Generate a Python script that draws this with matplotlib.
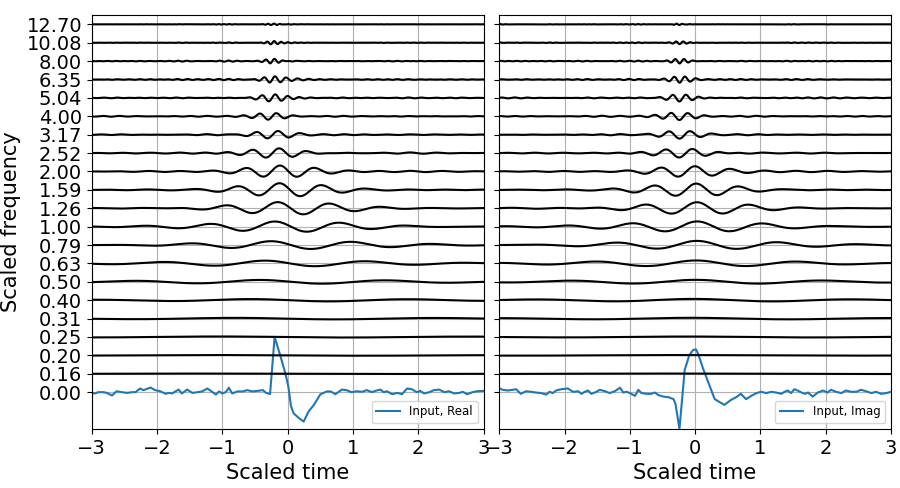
import numpy as np
import matplotlib
matplotlib.use("Agg")
import matplotlib.pyplot as plt

# ---- data ----
freq_labels = ["0.00", "0.16", "0.20", "0.25", "0.31", "0.40", "0.50", "0.63", "0.79",
               "1.00", "1.26", "1.59", "2.00", "2.52", "3.17", "4.00", "5.04", "6.35",
               "8.00", "10.08", "12.70"]
freqs = [0.157, 0.198, 0.250, 0.315, 0.397, 0.500, 0.630, 0.794, 1.000, 1.260,
         1.587, 2.000, 2.520, 3.175, 4.000, 5.040, 6.350, 8.000, 10.079, 12.699]

t_real = [-3.0, -2.95, -2.90, -2.82, -2.77, -2.69, -2.62, -2.54, -2.46, -2.38, -2.33,
          -2.26, -2.21, -2.10, -2.03, -1.95, -1.87, -1.82, -1.77, -1.72, -1.67, -1.62,
          -1.54, -1.46, -1.38, -1.31, -1.23, -1.15, -1.10, -1.05, -1.00, -0.95, -0.90,
          -0.85, -0.77, -0.69, -0.62, -0.54, -0.46, -0.38, -0.33, -0.27,
          -0.20, -0.11, -0.03, 0.01, 0.05, 0.09, 0.17, 0.245, 0.32, 0.40, 0.50, 0.60,
          0.66, 0.73, 0.83, 0.90, 0.98, 1.06, 1.14, 1.21, 1.29, 1.36, 1.42, 1.47, 1.52,
          1.60, 1.68, 1.75, 1.83, 1.90, 1.98, 2.03, 2.09, 2.17, 2.24, 2.32, 2.40, 2.47,
          2.55, 2.63, 2.68, 2.75, 2.83, 2.90, 3.0]
v_real = [-0.04, -0.07, 0.0, 0.0, -0.04, -0.18, 0.05, 0.0, -0.04, 0.0, 0.0,
          0.20, 0.11, 0.25, 0.11, 0.05, -0.09, -0.04, -0.07, 0.04, 0.14, -0.07,
          0.14, -0.04, 0.0, 0.04, 0.20, 0.0, -0.13, 0.04, -0.07, 0.0, 0.24,
          -0.07, 0.04, 0.04, 0.11, 0.04, 0.07, 0.11, -0.04, -0.10,
          3.0, 1.95, 0.95, 0.30, -0.75, -1.15, -1.40, -1.60, -1.05, -0.70, -0.12, 0.04,
          0.04, -0.11, 0.14, 0.11, 0.0, 0.05, 0.02, 0.11, 0.0, 0.09, 0.14, 0.0, 0.05,
          -0.11, -0.04, -0.11, 0.20, 0.16, 0.0, 0.07, -0.07, 0.0, 0.11, 0.14, 0.0, 0.05,
          -0.07, -0.04, 0.02, -0.11, 0.0, 0.05, 0.07]

t_imag = [-3.0, -2.95, -2.87, -2.79, -2.74, -2.67, -2.59, -2.51, -2.44, -2.36, -2.28,
          -2.23, -2.18, -2.13, -2.05, -1.95, -1.87, -1.79, -1.74, -1.69, -1.64, -1.59,
          -1.51, -1.46, -1.38, -1.31, -1.23, -1.15, -1.10, -1.05, -1.00, -0.92, -0.87,
          -0.82, -0.74, -0.67, -0.62, -0.56, -0.49, -0.41, -0.33, -0.30, -0.24,
          -0.16, -0.09, -0.03, 0.015, 0.055, 0.12, 0.20, 0.30, 0.375, 0.45, 0.55, 0.63,
          0.70, 0.78, 0.86, 0.94, 1.01, 1.09, 1.17, 1.24, 1.32, 1.37, 1.42, 1.47, 1.52,
          1.57, 1.63, 1.68, 1.73, 1.80, 1.88, 1.96, 2.03, 2.08, 2.16, 2.24, 2.31, 2.39,
          2.47, 2.54, 2.62, 2.70, 2.77, 2.85, 2.93, 3.0]
v_imag = [0.22, 0.13, 0.09, 0.13, 0.16, -0.09, 0.05, 0.02, -0.02, -0.05, -0.13,
          0.02, -0.05, 0.09, 0.16, 0.20, 0.02, 0.05, -0.09, 0.02, 0.09, -0.09,
          0.02, 0.13, 0.05, -0.05, 0.05, 0.24, -0.02, 0.02, -0.05, -0.20, 0.13,
          -0.05, -0.09, -0.09, -0.02, -0.16, -0.24, -0.27, -0.38, -0.65, -2.0,
          1.2, 2.0, 2.30, 2.32, 2.0, 1.30, 0.55, -0.38, -0.54, -0.69, -0.42, -0.27,
          -0.09, -0.38, -0.20, -0.05, 0.02, -0.05, 0.02, -0.02, -0.09, 0.02, 0.09, -0.05, 0.16,
          0.09, -0.02, -0.09, -0.02, -0.24, -0.02, 0.09, -0.02, 0.13, 0.02, -0.05, 0.09, 0.02,
          0.02, 0.13, 0.05, -0.05, 0.02, -0.09, -0.05, 0.02]

# ---- wavelet responses computed from the read input ----
tf = np.linspace(-3, 3, 1201)
dt = tf[1] - tf[0]


def responses(t_in, v_in):
    x = np.interp(tf, t_in, v_in)
    d = tf[:, None] - tf[None, :]
    rows = []
    for f in freqs:
        psi = f / np.sqrt(2 * np.pi) * np.exp(-0.5 * (f * d) ** 2) * np.cos(2 * np.pi * f * d)
        rows.append(psi @ x * dt)
    return rows


panels = [(t_real, v_real, "Input, Real"), (t_imag, v_imag, "Input, Imag")]

fig, axes = plt.subplots(1, 2, figsize=(9, 4.88), dpi=100, sharey=True)
fig.subplots_adjust(left=0.102, right=0.99, top=0.969, bottom=0.121, wspace=0.04)

for ax, (t_in, v_in, lab) in zip(axes, panels):
    rows = responses(t_in, v_in)
    for k, r in enumerate(rows, start=1):
        ax.plot(tf, k + r, color="black", lw=1.5, zorder=3)
    ax.plot(t_in, v_in, color="#1f77b4", lw=1.5, label=lab, zorder=2)
    ax.set_xlim(-3, 3)
    ax.set_ylim(-2, 20.5)
    ax.set_xticks([-3, -2, -1, 0, 1, 2, 3])
    ax.grid(True, color="#b0b0b0", lw=0.8)
    ax.tick_params(labelsize=14)
    ax.set_xlabel("Scaled time", fontsize=15)
    ax.legend(loc="lower right", fontsize=8.5)

axes[0].set_yticks(range(len(freq_labels)))
axes[0].set_yticklabels(freq_labels)
axes[0].set_ylabel("Scaled frequency", fontsize=15)

fig.savefig("out.png", dpi=100)
